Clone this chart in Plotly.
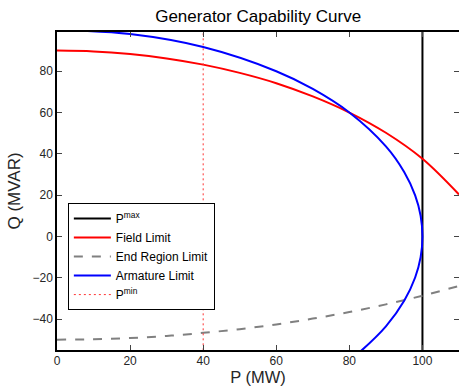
import plotly.graph_objects as go

# Values
p_max = 100
p_min = 40

field_p = [0, 10, 20, 30, 40, 50, 60, 70, 80, 90, 100, 110]
field_q = [90.0, 89.6, 88.3, 86.2, 83.2, 79.2, 74.2, 67.8, 60.0, 50.2, 37.6, 20.3]

end_p = [0, 10, 20, 30, 40, 50, 60, 70, 80, 90, 100, 110]
end_q = [-50.0, -49.8, -49.2, -48.2, -46.7, -44.9, -42.6, -39.8, -36.6, -32.9, -28.7, -24.0]

arm_p = [0, 20, 40, 60, 70, 80, 90, 95, 98, 99.5, 100, 99.5, 98, 95, 90, 83.3, 80]
arm_q = [100, 98.0, 91.7, 80.0, 71.4, 60.0, 43.6, 31.2, 19.9, 10.0, 0, -10.0, -19.9, -31.2, -43.6, -55.3, -60.0]

q_span = [-60, 110]

xticks = [0, 20, 40, 60, 80, 100]
yticks = [-40, -20, 0, 20, 40, 60, 80]

FONT = "Liberation Sans, Arial, Helvetica, sans-serif"

fig = go.Figure()
fig.add_trace(go.Scatter(x=[p_max, p_max], y=q_span, mode="lines", name="P<sup>max</sup>",
                         line=dict(color="black", width=2)))
fig.add_trace(go.Scatter(x=field_p, y=field_q, mode="lines", name="Field Limit",
                         line=dict(color="#ff0000", width=2, shape="spline")))
fig.add_trace(go.Scatter(x=end_p, y=end_q, mode="lines", name="End Region Limit",
                         line=dict(color="#808080", width=2, dash="dash", shape="spline")))
fig.add_trace(go.Scatter(x=arm_p, y=arm_q, mode="lines", name="Armature Limit",
                         line=dict(color="#0000ff", width=2, shape="spline")))
fig.add_trace(go.Scatter(x=[p_min, p_min], y=q_span, mode="lines", name="P<sup>min</sup>",
                         line=dict(color="#ff3333", width=1, dash="2px,3px")))

fig.update_layout(
    width=459, height=386,
    margin=dict(l=57, r=0, t=32, b=36, autoexpand=False),
    paper_bgcolor="white", plot_bgcolor="white",
    font=dict(family=FONT, size=12, color="#262626"),
    title=dict(text="Generator Capability Curve", x=0.5625, xanchor="center",
               y=1 - 16 / 386, yanchor="middle",
               font=dict(family=FONT, size=17, color="black")),
    showlegend=True,
    legend=dict(x=0.027, y=0.462, xanchor="left", yanchor="top",
                bgcolor="white", bordercolor="black", borderwidth=1,
                font=dict(family=FONT, size=12, color="black"),
                tracegroupgap=0, itemwidth=37),
    xaxis=dict(range=[0, 110], tickvals=xticks, ticks="inside", ticklen=5,
               showline=True, linecolor="black", linewidth=1.5, mirror="ticks",
               showgrid=False, zeroline=False, automargin=False,
               tickfont=dict(family=FONT, size=12, color="#262626"),
               ticklabelstandoff=-1,
               title=dict(text="P (MW)", standoff=8,
                          font=dict(family=FONT, size=16.5, color="#262626"))),
    yaxis=dict(range=[-55, 99], tickvals=yticks, ticks="inside", ticklen=5,
               showline=True, linecolor="black", linewidth=1.5, mirror="ticks",
               showgrid=False, zeroline=False, automargin=False,
               tickfont=dict(family=FONT, size=12, color="#262626"),
               title=dict(text="Q (MVAR)", standoff=8,
                          font=dict(family=FONT, size=17, color="#262626"))),
)

fig.write_html("out.html")
